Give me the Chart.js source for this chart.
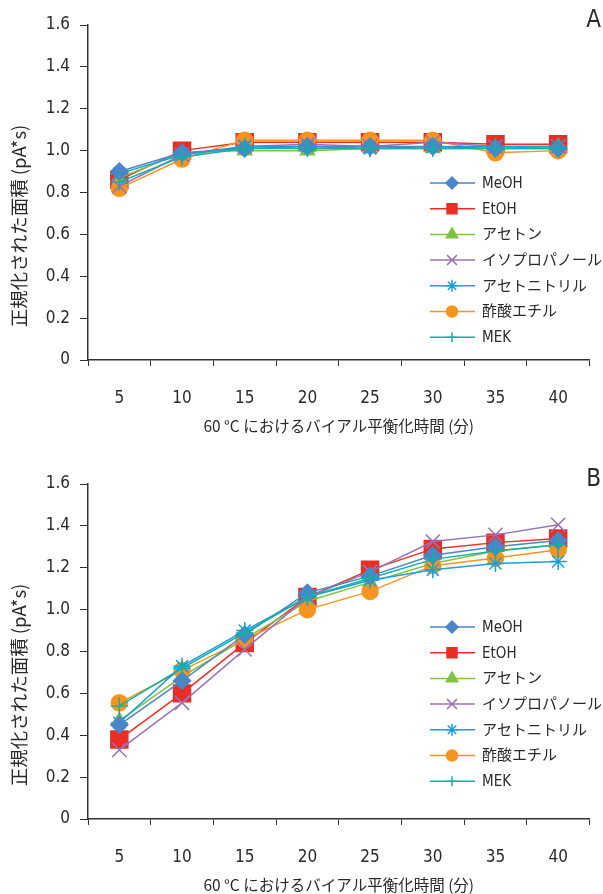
<!DOCTYPE html>
<html>
<head>
<meta charset="utf-8">
<script src="https://cdn.jsdelivr.net/npm/chart.js@4.4.1/dist/chart.umd.min.js"></script>
<style>
  html, body { margin: 0; padding: 0; background: #fff; }
  canvas { display: block; }
</style>
</head>
<body>
<canvas id="chartA" width="603" height="459"></canvas>
<canvas id="chartB" width="603" height="435"></canvas>
<script>
// categories (equilibration time, min)
const times = ['5', '10', '15', '20', '25', '30', '35', '40'];
const solvents = ['MeOH', 'EtOH', 'アセトン', 'イソプロパノール', 'アセトニトリル', '酢酸エチル', 'MEK'];

// panel A
const meohA    = [0.90, 0.99, 1.01, 1.02, 1.02, 1.02, 1.01, 1.01];
const etohA    = [0.86, 1.00, 1.04, 1.04, 1.04, 1.04, 1.03, 1.03];
const acetoneA = [0.87, 0.99, 1.00, 1.00, 1.01, 1.01, 1.01, 1.02];
const ipaA     = [0.83, 0.98, 1.02, 1.03, 1.02, 1.04, 1.02, 1.02];
const acnA     = [0.89, 0.98, 1.02, 1.02, 1.01, 1.02, 1.02, 1.02];
const etoacA   = [0.82, 0.96, 1.05, 1.05, 1.05, 1.05, 0.99, 1.00];
const mekA     = [0.85, 0.97, 1.01, 1.01, 1.01, 1.01, 1.01, 1.01];

// panel B
const meohB    = [0.45, 0.66, 0.88, 1.08, 1.16, 1.26, 1.30, 1.33];
const etohB    = [0.38, 0.60, 0.84, 1.06, 1.19, 1.29, 1.32, 1.34];
const acetoneB = [0.47, 0.68, 0.86, 1.04, 1.13, 1.22, 1.28, 1.31];
const ipaB     = [0.33, 0.555, 0.81, 1.06, 1.18, 1.325, 1.357, 1.405];
const acnB     = [0.46, 0.73, 0.90, 1.06, 1.14, 1.19, 1.22, 1.23];
const etoacB   = [0.555, 0.71, 0.857, 1.00, 1.087, 1.21, 1.246, 1.286];
const mekB     = [0.54, 0.72, 0.89, 1.06, 1.15, 1.24, 1.28, 1.31];

const yTitle = '正規化された面積 (pA*s)';
const xTitle = '60 °C におけるバイアル平衡化時間 (分)';

const colors = ['#4a86c8', '#ec2d24', '#80c342', '#9a72b8', '#19a0dc', '#f7941d', '#12b0a6'];
const styles = ['rectRot', 'rect', 'triangle', 'crossRot', 'star', 'circle', 'cross'];
const radii = [8.5, 12, 8, 10, 8.5, 8, 8.5];
const legendRadii = [6, 7, 6.5, 7, 6, 5.5, 5];
const drawOrder = [1, 6, 5, 3, 2, 4, 0];

const narrow = "'Liberation Sans Narrow', 'DejaVu Sans Condensed', 'Noto Sans CJK JP', sans-serif";
const jp = "'Noto Sans CJK JP', 'Noto Sans', sans-serif";

function buildDatasets(series) {
    return series.map(function(values, i) {
        return {
            label: solvents[i],
            data: values,
            borderColor: colors[i],
            backgroundColor: colors[i],
            borderWidth: 1.5,
            pointStyle: styles[i],
            pointRadius: radii[i],
            pointBackgroundColor: colors[i],
            pointBorderColor: colors[i],
            pointBorderWidth: 1.5,
            tension: 0,
            fill: false,
            order: drawOrder[i]
        };
    });
}

// legend inside the plot area, rotated y title and panel letter
const insideLegend = {
    id: 'insideLegend',
    afterDraw(chart, args, opts) {
        const ctx = chart.ctx;
        ctx.save();
        chart.data.datasets.forEach(function(ds, i) {
            const y = opts.top + i * opts.gap;
            ctx.strokeStyle = ds.borderColor;
            ctx.fillStyle = ds.backgroundColor;
            ctx.lineWidth = 1.5;
            ctx.beginPath();
            ctx.moveTo(430, y);
            ctx.lineTo(475, y);
            ctx.stroke();
            Chart.helpers.drawPoint(ctx, {
                pointStyle: ds.pointStyle,
                radius: legendRadii[i],
                borderWidth: 1.5,
                rotation: 0
            }, 452, y);
            ctx.fillStyle = '#2a2a2a';
            ctx.font = "15px " + narrow;
            ctx.textAlign = 'left';
            ctx.textBaseline = 'middle';
            ctx.fillText(ds.label, 482, y + 1);
        });

        ctx.fillStyle = '#2a2a2a';
        ctx.font = "24px " + narrow;
        ctx.textAlign = 'right';
        ctx.textBaseline = 'middle';
        ctx.fillText(opts.letter, 601, 21);

        // y axis title, shifted below centre like the original
        ctx.translate(19, 226);
        ctx.rotate(-Math.PI / 2);
        ctx.font = "18.5px " + jp;
        ctx.textAlign = 'center';
        ctx.fillText(yTitle, 0, 0);
        ctx.restore();
    }
};

function makeChart(id, series, letter, legendTop, padBottom) {
    return new Chart(document.getElementById(id), {
        type: 'line',
        data: { labels: times, datasets: buildDatasets(series) },
        plugins: [insideLegend],
        options: {
            responsive: false,
            animation: false,
            layout: { padding: { top: 25, right: 10, bottom: padBottom, left: 0 } },
            plugins: {
                legend: { display: false },
                tooltip: { enabled: false },
                insideLegend: { top: legendTop, gap: 25.7, letter: letter }
            },
            scales: {
                x: {
                    offset: true,
                    grid: { offset: true, drawOnChartArea: false, tickLength: 6, color: '#333', lineWidth: 1 },
                    border: { color: '#333', width: 1.5 },
                    ticks: { padding: 22, color: '#2a2a2a', maxRotation: 0, font: { family: narrow, size: 17 } },
                    title: {
                        display: true,
                        text: xTitle,
                        color: '#2a2a2a',
                        font: { family: jp, size: 15.5 },
                        padding: { top: 4, bottom: 0 }
                    },
                    afterFit: function(scale) { scale.height = 75; }
                },
                y: {
                    min: 0,
                    max: 1.6,
                    grid: { drawOnChartArea: false, tickLength: 8, color: '#333', lineWidth: 1 },
                    border: { color: '#333', width: 1.5 },
                    ticks: {
                        stepSize: 0.2,
                        padding: 10,
                        color: '#2a2a2a',
                        font: { family: narrow, size: 17 },
                        callback: function(v) { return v === 0 ? '0' : v.toFixed(1); }
                    },
                    afterFit: function(scale) { scale.width = 88; }
                }
            }
        }
    });
}

document.addEventListener('DOMContentLoaded', function() {
    makeChart('chartA', [meohA, etohA, acetoneA, ipaA, acnA, etoacA, mekA], 'A', 183, 24);
    makeChart('chartB', [meohB, etohB, acetoneB, ipaB, acnB, etoacB, mekB], 'B', 168, 0);
});
</script>
</body>
</html>
